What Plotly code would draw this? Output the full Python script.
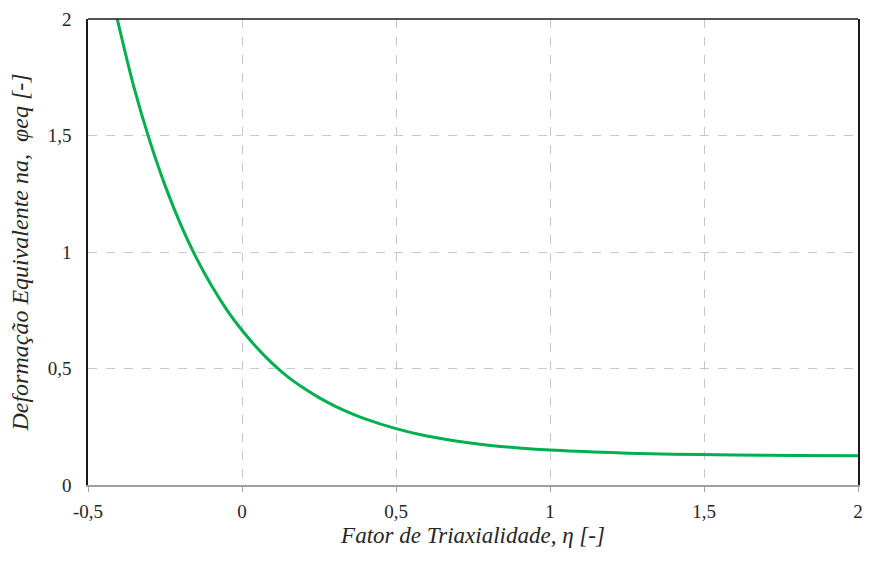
import plotly.graph_objects as go

# Fator de triaxialidade (eta) e deformação equivalente na fratura (phi_eq)
eta = [-0.405, -0.35, -0.3, -0.25, -0.2, -0.15, -0.1, -0.05, 0.0, 0.05, 0.1,
       0.15, 0.2, 0.25, 0.3, 0.35, 0.4, 0.5, 0.6, 0.7, 0.8, 0.9, 1.0, 1.2,
       1.4, 1.6, 1.8, 2.0]
phi_eq = [2.0, 1.703, 1.479, 1.286, 1.121, 0.979, 0.858, 0.753, 0.664, 0.587,
          0.520, 0.463, 0.416, 0.375, 0.340, 0.310, 0.284, 0.242, 0.210, 0.188,
          0.171, 0.159, 0.150, 0.139, 0.132, 0.129, 0.127, 0.126]

x_ticks = [-0.5, 0, 0.5, 1, 1.5, 2]
x_labels = ["-0,5", "0", "0,5", "1", "1,5", "2"]
y_ticks = [0, 0.5, 1, 1.5, 2]
y_labels = ["0", "0,5", "1", "1,5", "2"]

font_family = "Liberation Serif"
text_color = "#262626"

fig = go.Figure()
fig.add_trace(go.Scatter(
    x=eta, y=phi_eq, mode="lines",
    line=dict(color="#00B050", width=3, shape="spline", smoothing=1.0),
    showlegend=False, hoverinfo="skip",
))

fig.update_layout(
    width=872, height=563,
    margin=dict(l=88, r=9, t=18, b=78),
    paper_bgcolor="white", plot_bgcolor="white",
    font=dict(family=font_family, size=19, color=text_color),
    xaxis=dict(
        range=[-0.5, 2], tickvals=x_ticks, ticktext=x_labels,
        showgrid=True, gridcolor="#C8C8C8", griddash="dash", gridwidth=1,
        zeroline=False, showline=True, linecolor="#A0A0A0", linewidth=1.5,
        ticks="outside", ticklen=5, tickcolor="#A0A0A0",
        ticklabelstandoff=3,
        tickfont=dict(family=font_family, size=19, color=text_color),
        title=dict(text="<i>Fator de Triaxialidade, η [-]</i>",
                   font=dict(family=font_family, size=23, color=text_color),
                   standoff=6),
    ),
    yaxis=dict(
        range=[0, 2], tickvals=y_ticks, ticktext=y_labels,
        showgrid=True, gridcolor="#C8C8C8", griddash="dash", gridwidth=1,
        zeroline=False, showline=True, linecolor="#1A1A1A", linewidth=1.5,
        mirror=True, ticks="", ticklabelstandoff=11,
        tickfont=dict(family=font_family, size=19, color=text_color),
        title=dict(text="<i>Deformação Equivalente na,  φeq [-]</i>",
                   font=dict(family=font_family, size=24, color=text_color),
                   standoff=12),
    ),
    shapes=[dict(type="line", xref="paper", yref="paper", x0=0, x1=1,
                 y0=1, y1=1, line=dict(color="#1A1A1A", width=1.5))],
)

fig.write_html("out.html")
